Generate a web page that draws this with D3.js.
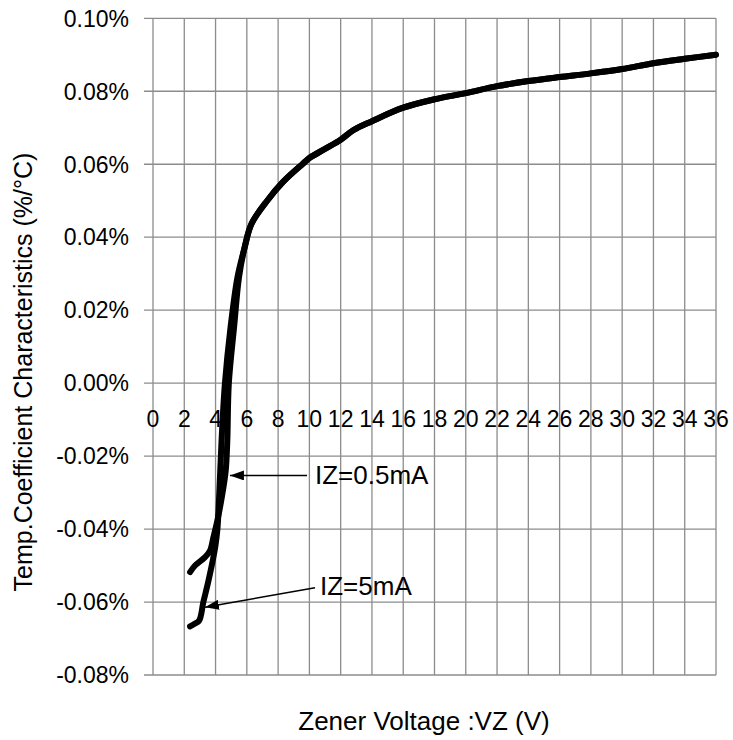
<!DOCTYPE html>
<html>
<head>
<meta charset="utf-8">
<script src="https://cdn.jsdelivr.net/npm/d3@7"></script>
<style>
  body { margin: 0; background: #fff; }
  text { font-family: "Liberation Sans", Arial, sans-serif; fill: #000; }
</style>
</head>
<body>
<div id="chart"></div>
<script>
// Zener voltage (V) and temperature coefficient (%/°C)
var vz05 = [2.37, 2.69, 3.33, 3.65, 3.86, 4.15, 4.45, 4.65, 4.75, 4.85, 5.2, 5.5, 5.9, 6.3, 7.3, 8.3, 9.6, 10, 11, 12, 12.8, 14, 16, 18, 20, 22, 24, 26, 28, 30, 32, 34, 36];
var tc05 = [-0.0518, -0.0500, -0.0477, -0.0459, -0.0423, -0.037, -0.030, -0.024, -0.016, 0.000, 0.0160, 0.029, 0.038, 0.0437, 0.050, 0.0551, 0.0602, 0.0617, 0.0642, 0.0667, 0.0693, 0.0718, 0.0755, 0.0778, 0.0795, 0.0814, 0.0828, 0.0839, 0.0849, 0.0861, 0.0877, 0.0889, 0.0900];

var vz5 = [2.37, 2.69, 2.96, 3.22, 3.55, 3.98, 4.12, 4.25, 4.38, 4.6, 4.95, 5.4, 5.85, 6.3, 7.3, 8.3, 9.6, 10, 11, 12, 12.8, 14, 16, 18, 20, 22, 24, 26, 28, 30, 32, 34, 36];
var tc5 = [-0.0667, -0.0659, -0.0650, -0.0600, -0.0541, -0.0449, -0.040, -0.029, -0.016, 0.000, 0.0150, 0.029, 0.037, 0.0437, 0.050, 0.0551, 0.0602, 0.0617, 0.0642, 0.0667, 0.0693, 0.0718, 0.0755, 0.0778, 0.0795, 0.0814, 0.0828, 0.0839, 0.0849, 0.0861, 0.0877, 0.0889, 0.0900];

var xTicks = d3.range(0, 37, 2);
var yTicks = [-0.08, -0.06, -0.04, -0.02, 0.00, 0.02, 0.04, 0.06, 0.08, 0.10];

// annotation: label, arrow tip (V, %), arrow tail (V, %), label start (V, %)
var noteLabels = ["IZ=0.5mA", "IZ=5mA"];
var noteTips = [[4.92, -0.0253], [3.32, -0.0614]];
var noteTails = [[9.85, -0.0253], [10.36, -0.0561]];
var noteText = [[10.36, -0.0253], [10.68, -0.0557]];

var width = 733,
    height = 740;

var x = d3.scaleLinear().domain([0, 36]).range([153, 716]);
var y = d3.scaleLinear().domain([-0.08, 0.10]).range([675, 18.3]);

var svg = d3.select('#chart')
    .append('svg')
        .attr('width', width)
        .attr('height', height);

svg.append('defs')
    .append('marker')
        .attr('id', 'head')
        .attr('markerUnits', 'userSpaceOnUse')
        .attr('viewBox', '0 0 14 10')
        .attr('refX', 14)
        .attr('refY', 5)
        .attr('markerWidth', 14)
        .attr('markerHeight', 10)
        .attr('orient', 'auto')
    .append('path')
        .attr('d', 'M0,0 L14,5 L0,10 Z')
        .attr('fill', '#000');

// grid
var grid = svg.append('g').attr('stroke', '#8c8c8c').attr('stroke-width', 1.3);

grid.selectAll('.vline')
    .data(xTicks)
    .enter()
    .append('line')
        .attr('x1', function (d) { return x(d); })
        .attr('x2', function (d) { return x(d); })
        .attr('y1', y(-0.08))
        .attr('y2', y(0.10));

grid.selectAll('.hline')
    .data(yTicks)
    .enter()
    .append('line')
        .attr('x1', x(0) - 9)
        .attr('x2', x(36))
        .attr('y1', function (d) { return y(d); })
        .attr('y2', function (d) { return y(d); });

// y tick labels, plain hyphen for negatives
svg.selectAll('.ylab')
    .data(yTicks)
    .enter()
    .append('text')
        .attr('x', 129)
        .attr('y', function (d) { return y(d); })
        .attr('dy', '0.36em')
        .attr('text-anchor', 'end')
        .style('font-size', '23px')
        .text(function (d) { return d3.format('.2f')(d).replace('\u2212', '-') + '%'; });

// x tick labels sit on the zero line
svg.selectAll('.xlab')
    .data(xTicks)
    .enter()
    .append('text')
        .attr('x', function (d) { return x(d); })
        .attr('y', y(0) + 44)
        .attr('text-anchor', 'middle')
        .style('font-size', '23px')
        .text(function (d) { return d; });

// curves
var line = d3.line()
    .x(function (d) { return x(d[0]); })
    .y(function (d) { return y(d[1]); })
    .curve(d3.curveCatmullRom.alpha(0.5));

[[vz05, tc05], [vz5, tc5]].forEach(function (s) {
    svg.append('path')
        .datum(d3.zip(s[0], s[1]))
        .attr('d', line)
        .attr('fill', 'none')
        .attr('stroke', '#000')
        .attr('stroke-width', 6)
        .attr('stroke-linecap', 'round')
        .attr('stroke-linejoin', 'round');
});

// annotations
noteLabels.forEach(function (label, i) {
    svg.append('line')
        .attr('x1', x(noteTails[i][0]))
        .attr('y1', y(noteTails[i][1]))
        .attr('x2', x(noteTips[i][0]))
        .attr('y2', y(noteTips[i][1]))
        .attr('stroke', '#000')
        .attr('stroke-width', 1.5)
        .attr('marker-end', 'url(#head)');

    svg.append('text')
        .attr('x', x(noteText[i][0]))
        .attr('y', y(noteText[i][1]) + 9)
        .style('font-size', '26px')
        .text(label);
});

// axis titles
svg.append('text')
    .attr('x', 424)
    .attr('y', 730)
    .attr('text-anchor', 'middle')
    .style('font-size', '26px')
    .text('Zener Voltage :VZ (V)');

svg.append('text')
    .attr('transform', 'translate(32,' + 372 + ') rotate(-90)')
    .attr('text-anchor', 'middle')
    .style('font-size', '25px')
    .text('Temp.Coefficient Characteristics (%/°C)');
</script>
</body>
</html>
